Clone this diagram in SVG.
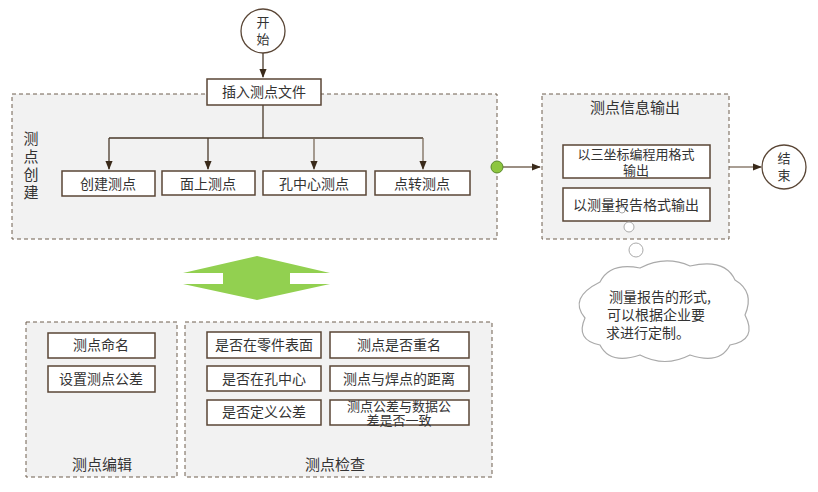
<svg xmlns="http://www.w3.org/2000/svg" width="818" height="492" viewBox="0 0 818 492">
<defs>
<style>
.grp{fill:#f2f2f2;stroke:#6e5e4e;stroke-width:1;stroke-dasharray:4 3}
.box{fill:#fff;stroke:#5a4636;stroke-width:1.5}
.t{font-family:"Noto Sans CJK SC","Liberation Sans",sans-serif;font-size:14px;fill:#333;text-anchor:middle}
.s{font-size:13px}
.h{font-size:15px}
.ln{fill:none;stroke:#4a3a2a;stroke-width:1.3}
.ln2{fill:none;stroke:#7a6a5a;stroke-width:1.3}
</style>
<marker id="ar" viewBox="0 0 10 10" refX="9" refY="5" markerWidth="7" markerHeight="7" orient="auto"><path d="M0,1 L10,5 L0,9 z" fill="#3a2a1a"/></marker>
</defs>
<rect width="818" height="492" fill="#fff"/>
<g id="grp-create"><rect class="grp" x="12" y="94" width="485" height="145"/>
<text class="t h" x="31" y="144">测</text><text class="t h" x="31" y="162">点</text><text class="t h" x="31" y="180">创</text><text class="t h" x="31" y="198">建</text></g>
<g id="grp-output"><rect class="grp" x="542" y="94" width="187" height="145"/><text class="t h" x="635" y="113">测点信息输出</text></g>
<g id="grp-edit"><rect class="grp" x="26" y="322" width="151" height="155"/><text class="t h" x="102" y="470">测点编辑</text></g>
<g id="grp-check"><rect class="grp" x="185" y="322" width="307" height="155"/><text class="t h" x="335" y="470">测点检查</text></g>
<g id="connectors">
<path class="ln" d="M263,53 V77" marker-end="url(#ar)"/>
<path class="ln" d="M263,105 V138 M109,138 H423"/>
<path class="ln" d="M109,138 V169" marker-end="url(#ar)"/>
<path class="ln" d="M208,138 V169" marker-end="url(#ar)"/>
<path class="ln2" d="M314,138 V169" marker-end="url(#ar)"/>
<path class="ln2" d="M423,138 V169" marker-end="url(#ar)"/>
<path class="ln2" d="M503,167 H540" marker-end="url(#ar)"/>
<path class="ln2" d="M729,167 H761" marker-end="url(#ar)"/>
</g>
<g id="start"><circle cx="263" cy="31" r="22" fill="#fff" stroke="#5a4636" stroke-width="1.3"/><text class="t s" x="263" y="27">开</text><text class="t s" x="263" y="44">始</text></g>
<g id="end"><circle cx="784" cy="167" r="22" fill="#fff" stroke="#5a4636" stroke-width="1.3"/><text class="t s" x="784" y="163">结</text><text class="t s" x="784" y="180">束</text></g>
<g id="insert"><rect class="box" x="207" y="79" width="114" height="26"/><text class="t" x="264" y="97">插入测点文件</text></g>
<g id="n1"><rect class="box" x="62" y="171" width="93" height="25"/><text class="t" x="108" y="189">创建测点</text></g>
<g id="n2"><rect class="box" x="162" y="171" width="93" height="24"/><text class="t" x="208" y="189">面上测点</text></g>
<g id="n3"><rect class="box" x="263" y="171" width="103" height="24"/><text class="t" x="314" y="189">孔中心测点</text></g>
<g id="n4"><rect class="box" x="375" y="171" width="95" height="24"/><text class="t" x="422" y="189">点转测点</text></g>
<g id="dot"><circle cx="497" cy="167" r="6" fill="#8dc63f" stroke="#5a8a2a"/></g>
<g id="o1"><rect class="box" x="563" y="145" width="147" height="33"/><text class="t s" x="636" y="159">以三坐标编程用格式</text><text class="t s" x="636" y="175">输出</text></g>
<g id="o2"><rect class="box" x="563" y="188" width="147" height="33"/><text class="t" x="636" y="210">以测量报告格式输出</text></g>
<g id="cloud">
<circle cx="622" cy="210" r="3" fill="#fff" stroke="#aaa"/>
<circle cx="629" cy="227" r="5" fill="#fff" stroke="#aaa"/>
<circle cx="636" cy="250" r="7" fill="#fff" stroke="#aaa"/>
<path d="M600,282 Q610,262 640,268 Q665,255 690,266 Q725,258 735,280 Q755,292 745,315 Q758,340 730,345 Q720,365 690,355 Q665,368 640,355 Q610,365 600,345 Q575,340 585,318 Q568,298 600,282 Z" fill="#fff" stroke="#aaa" stroke-width="1.2"/>
<text class="t" x="660" y="302">测量报告的形式,</text>
<text class="t" x="656" y="320">可以根据企业要</text>
<text class="t" x="648" y="338">求进行定制。</text>
</g>
<g id="dbl"><polygon points="183,273 257,256 330,273 290,273 290,284 330,284 257,300 183,284 223,284 223,273" fill="#92d050"/></g>
<g id="e1"><rect class="box" x="48" y="333" width="107" height="25"/><text class="t" x="101" y="350">测点命名</text></g>
<g id="e2"><rect class="box" x="48" y="366" width="107" height="26"/><text class="t" x="101" y="384">设置测点公差</text></g>
<g id="c1"><rect class="box" x="207" y="332" width="114" height="26"/><text class="t" x="264" y="350">是否在零件表面</text></g>
<g id="c2"><rect class="box" x="330" y="332" width="139" height="26"/><text class="t" x="399" y="350">测点是否重名</text></g>
<g id="c3"><rect class="box" x="207" y="366" width="114" height="25"/><text class="t" x="264" y="384">是否在孔中心</text></g>
<g id="c4"><rect class="box" x="330" y="366" width="139" height="25"/><text class="t" x="399" y="384">测点与焊点的距离</text></g>
<g id="c5"><rect class="box" x="207" y="400" width="114" height="25"/><text class="t" x="264" y="417">是否定义公差</text></g>
<g id="c6"><rect class="box" x="330" y="400" width="139" height="25"/><text class="t s" x="399" y="411">测点公差与数据公</text><text class="t s" x="399" y="425">差是否一致</text></g>
</svg>
